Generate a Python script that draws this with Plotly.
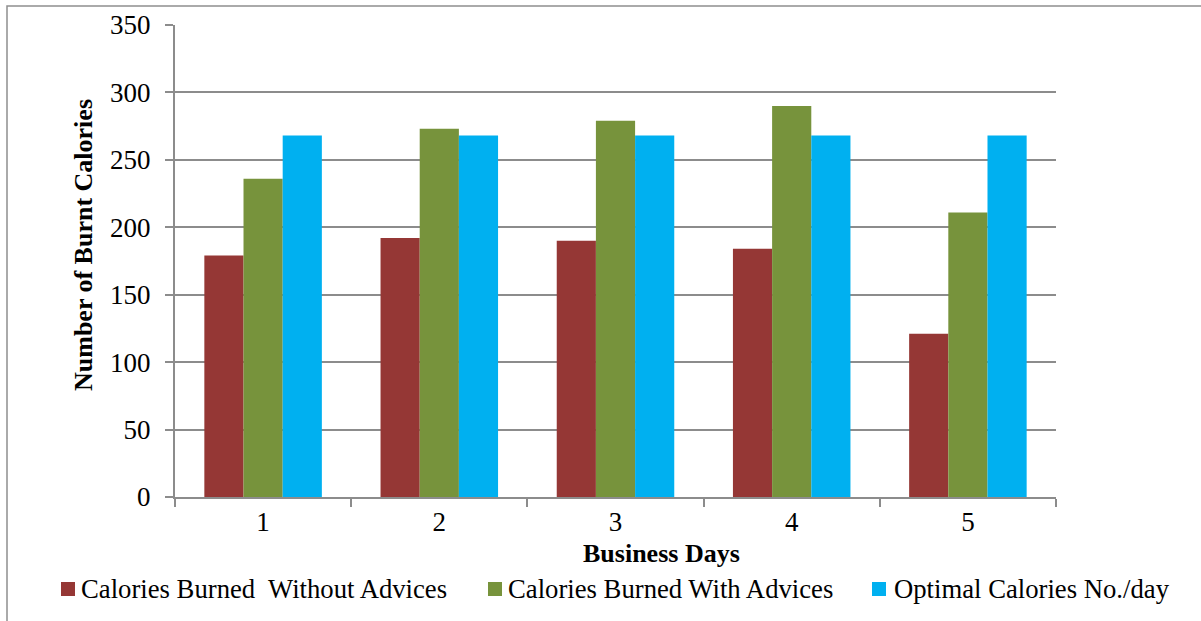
import plotly.graph_objects as go

# Daily calorie figures over five business days
days = ["1", "2", "3", "4", "5"]
without_advice = [179, 192, 190, 184, 121]
with_advice = [236, 273, 279, 290, 211]
optimal = [268, 268, 268, 268, 268]

series_names = [
    "Calories Burned\u00a0 Without Advices",
    "Calories Burned With Advices",
    "Optimal Calories No./day",
]
series_colors = ["#953735", "#77933C", "#00B0F0"]

FONT = "Liberation Serif"
GRID = "#8c8c8c"

W, H = 1201, 621
M_L, M_R, M_T, M_B = 175, 145, 25, 124
PW, PH = W - M_L - M_R, H - M_T - M_B


def px_x(p):
    """Pixel column -> paper x."""
    return (p - M_L) / PW


def px_y(p):
    """Pixel row -> paper y."""
    return (H - M_B - p) / PH


fig = go.Figure()
for name, vals, col in zip(series_names, [without_advice, with_advice, optimal], series_colors):
    fig.add_trace(go.Bar(
        x=days, y=vals, name=name,
        marker=dict(color=col, line=dict(width=0)),
    ))

# Legend row drawn beneath the axis: colour swatch + label per series
legend_swatch_x = [61, 488, 872]
legend_text_x = [80, 507, 893]
legend_y = 589
shapes = [
    # chart-area frame (left and top edges fall inside the page)
    dict(type="rect", xref="paper", yref="paper",
         x0=px_x(7), x1=px_x(1260), y0=px_y(700), y1=px_y(6),
         line=dict(color="#8f8f8f", width=1.5), fillcolor="rgba(0,0,0,0)", layer="below"),
]
annotations = [
    dict(text="<b>Number of Burnt Calories</b>", xref="paper", yref="paper",
         x=px_x(83), y=px_y(245), textangle=-90, showarrow=False,
         xanchor="center", yanchor="middle", font=dict(family=FONT, size=26)),
    dict(text="<b>Business Days</b>", xref="paper", yref="paper",
         x=px_x(661), y=px_y(553), showarrow=False,
         xanchor="center", yanchor="middle", font=dict(family=FONT, size=26)),
]
for name, col, sx, tx in zip(series_names, series_colors, legend_swatch_x, legend_text_x):
    shapes.append(dict(type="rect", xref="paper", yref="paper",
                       x0=px_x(sx), x1=px_x(sx + 14), y0=px_y(legend_y + 7), y1=px_y(legend_y - 7),
                       line=dict(width=0), fillcolor=col))
    annotations.append(dict(text=name, xref="paper", yref="paper",
                            x=px_x(tx), y=px_y(legend_y), showarrow=False,
                            xanchor="left", yanchor="middle", borderpad=0,
                            font=dict(family=FONT, size=26.7, color="black")))

fig.update_layout(
    width=W, height=H,
    margin=dict(l=M_L, r=M_R, t=M_T, b=M_B, autoexpand=False),
    paper_bgcolor="white", plot_bgcolor="white",
    barmode="group", bargap=0.333, bargroupgap=0,
    font=dict(family=FONT, size=26, color="black"),
    showlegend=False,
    xaxis=dict(
        type="category", showgrid=False, showline=True, linecolor=GRID, linewidth=2,
        ticks="outside", tickson="boundaries", ticklen=8, tickcolor=GRID, tickwidth=2,
        tickfont=dict(family=FONT, size=27), ticklabelstandoff=0,
    ),
    yaxis=dict(
        range=[0, 350], dtick=50, showgrid=True, gridcolor=GRID, gridwidth=2,
        showline=True, linecolor=GRID, linewidth=2, zeroline=False,
        ticks="outside", ticklen=8, tickcolor=GRID, tickwidth=2,
        tickfont=dict(family=FONT, size=27), ticklabelstandoff=9,
    ),
    annotations=annotations,
    shapes=shapes,
)

fig.write_html("out.html")
